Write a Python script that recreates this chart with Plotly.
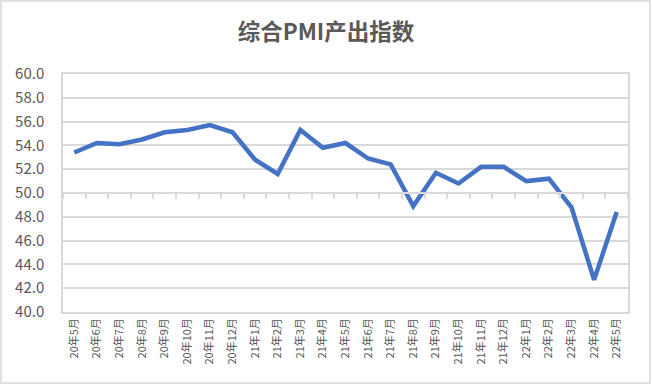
import plotly.graph_objects as go

categories = ["20年5月", "20年6月", "20年7月", "20年8月", "20年9月", "20年10月", "20年11月", "20年12月",
              "21年1月", "21年2月", "21年3月", "21年4月", "21年5月", "21年6月", "21年7月", "21年8月",
              "21年9月", "21年10月", "21年11月", "21年12月", "22年1月", "22年2月", "22年3月", "22年4月", "22年5月"]
pmi_output = [53.4, 54.2, 54.1, 54.5, 55.1, 55.3, 55.7, 55.1,
              52.8, 51.6, 55.3, 53.8, 54.2, 52.9, 52.4, 48.9,
              51.7, 50.8, 52.2, 52.2, 51.0, 51.2, 48.8, 42.7, 48.4]
y_ticks = [40, 42, 44, 46, 48, 50, 52, 54, 56, 58, 60]

W, H = 652, 386
L, R, T, B = 63, 24, 74, 74
pw, ph = W - L - R, H - T - B

font = "Noto Sans CJK SC"
grey = "#595959"
gridc = "#d9d9d9"

fig = go.Figure()
fig.add_trace(go.Scatter(x=categories, y=pmi_output, mode="lines",
                         line=dict(color="#4472C4", width=4.5), hoverinfo="x+y"))
# invisible trace on second x axis so it is drawn
fig.add_trace(go.Scatter(x=categories, y=pmi_output, xaxis="x2", mode="lines",
                         line=dict(color="rgba(0,0,0,0)", width=0), hoverinfo="skip", showlegend=False))

fig.update_layout(
    width=W, height=H,
    margin=dict(l=L, r=R, t=T, b=B, autoexpand=False),
    paper_bgcolor="white", plot_bgcolor="white",
    showlegend=False,
    font=dict(family=font, color=grey),
    title=dict(text="综合PMI产出指数", x=0.5, xanchor="center", y=1 - 32 / H, yanchor="middle",
               font=dict(family=font, size=22.5, color=grey, weight="bold"), automargin=False),
    xaxis=dict(type="category", categoryorder="array", categoryarray=categories,
               range=[-0.5, len(categories) - 0.5], automargin=False,
               showgrid=False, zeroline=False,
               showline=True, linecolor=gridc, linewidth=1.5, mirror=True,
               ticks="", tickangle=-90, tickfont=dict(size=11, color=grey, family=font)),
    xaxis2=dict(type="category", overlaying="x", matches="x", anchor="free",
                position=(50 - 40) / (60 - 40), automargin=False,
                showgrid=False, zeroline=False, showticklabels=False,
                showline=True, linecolor=gridc, linewidth=1.5,
                ticks="outside", tickson="boundaries", ticklen=5, tickwidth=1.5, tickcolor=gridc),
    yaxis=dict(range=[40, 60], tickvals=y_ticks, ticktext=[f"{v:.1f}" for v in y_ticks],
               automargin=False,
               showgrid=True, gridcolor=gridc, gridwidth=1.5, zeroline=False,
               showline=True, linecolor=gridc, linewidth=1.5, mirror=True,
               ticks="outside", ticklen=14, tickcolor="rgba(0,0,0,0)",
               tickfont=dict(size=15, color=grey, family=font)),
)

# chart-area border
fig.add_shape(type="rect", xref="paper", yref="paper",
              x0=(1 - L) / pw, x1=(W - 2 - L) / pw,
              y0=(ph + B - (H - 3)) / ph, y1=(ph + T - 1) / ph,
              line=dict(color=gridc, width=1.5), fillcolor="rgba(0,0,0,0)", layer="below")

fig.write_html("out.html", config={"displayModeBar": False},
               post_script="document.body.style.margin='0';document.body.style.overflow='hidden';")
